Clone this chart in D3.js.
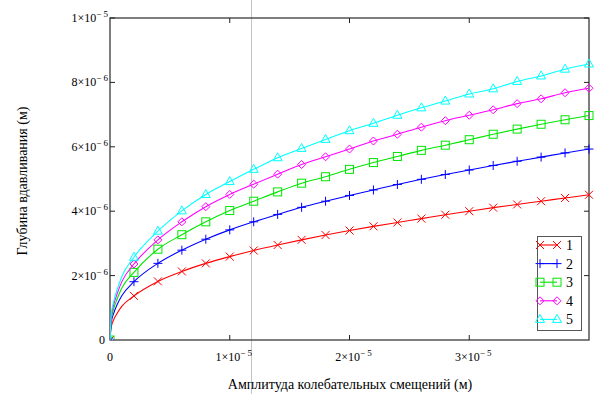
<!DOCTYPE html>
<html>
    <head>
        <meta charset="utf-8">
        <title>Глубина вдавливания</title>
        <style>
            body { margin: 0; background: #fff; }
            text { font-family: "Liberation Serif", "Times New Roman", serif; fill: #000; }
        </style>
    </head>
    <body>
        <svg></svg>
        <script src="https://d3js.org/d3.v7.min.js"></script>
        <script>
            // all values in units of 1e-6 m
            var xMarks = [0, 2, 4, 6, 8, 10, 12, 14, 16, 18, 20, 22, 24, 26, 28, 30, 32, 34, 36, 38, 40];
            var series1 = [0, 1.37, 1.82, 2.13, 2.38, 2.59, 2.78, 2.95, 3.11, 3.26, 3.40, 3.53, 3.65, 3.77, 3.89, 4.00, 4.11, 4.21, 4.31, 4.41, 4.51];
            var series2 = [0, 1.81, 2.38, 2.79, 3.13, 3.42, 3.67, 3.90, 4.12, 4.31, 4.49, 4.66, 4.83, 4.99, 5.14, 5.28, 5.42, 5.55, 5.68, 5.81, 5.93];
            var series3 = [0, 2.10, 2.82, 3.27, 3.67, 4.02, 4.31, 4.60, 4.87, 5.07, 5.30, 5.51, 5.70, 5.89, 6.05, 6.22, 6.39, 6.55, 6.70, 6.84, 6.97];
            var series4 = [0, 2.36, 3.11, 3.67, 4.14, 4.52, 4.84, 5.15, 5.45, 5.69, 5.93, 6.18, 6.39, 6.61, 6.81, 6.98, 7.15, 7.34, 7.49, 7.68, 7.82];
            var series5 = [0, 2.57, 3.38, 4.01, 4.52, 4.92, 5.30, 5.66, 5.95, 6.23, 6.50, 6.73, 6.98, 7.21, 7.42, 7.64, 7.80, 8.03, 8.20, 8.41, 8.57];

            // extra points read near the origin, where the curves rise steeply
            var xNear = [0.1, 0.3, 0.6, 1.0];
            var near1 = [0.40, 0.62, 0.83, 1.05];
            var near2 = [0.53, 0.82, 1.10, 1.38];
            var near3 = [0.62, 0.96, 1.28, 1.62];
            var near4 = [0.70, 1.08, 1.44, 1.82];
            var near5 = [0.76, 1.18, 1.57, 1.98];

            var seriesNames = ["1", "2", "3", "4", "5"];
            var seriesColors = ["#ff0000", "#0000ff", "#00e600", "#ff00ff", "#00ffff"];
            var seriesMarkers = ["x", "plus", "square", "diamond", "triangle"];

            var xTicks = [0, 10, 20, 30];
            var xTickLabels = [["0", ""], ["1×10", "− 5"], ["2×10", "− 5"], ["3×10", "− 5"]];
            var yTicks = [0, 2, 4, 6, 8, 10];
            var yTickLabels = [["0", ""], ["2×10", "− 6"], ["4×10", "− 6"], ["6×10", "− 6"], ["8×10", "− 6"], ["1×10", "− 5"]];

            var xTitle = "Амплитуда колебательных смещений (м)";
            var yTitle = "Глубина вдавливания (м)";

            var width = 595, height = 394;
            var svg = d3.select("svg").attr("width", width).attr("height", height);

            var x = d3.scaleLinear().domain([0, 40]).range([110, 589]);
            var y = d3.scaleLinear().domain([0, 10]).range([340, 18]);

            // clip curves and markers to the plot area
            svg.append("defs").append("clipPath").attr("id", "plotclip")
                .append("rect")
                .attr("x", x(0)).attr("y", y(10) - 6)
                .attr("width", x(40) - x(0) + 6).attr("height", y(0) - y(10) + 6);

            // stray cursor line from the original
            svg.append("line")
                .attr("x1", 251.5).attr("x2", 251.5)
                .attr("y1", 0).attr("y2", height)
                .attr("stroke", "#c4c4c4").attr("stroke-width", 1);

            // frame
            svg.append("rect")
                .attr("x", x(0)).attr("y", y(10))
                .attr("width", x(40) - x(0)).attr("height", y(0) - y(10))
                .attr("fill", "none").attr("stroke", "#3a3a3a").attr("stroke-width", 1.3);

            // ticks on all four sides, pointing inward
            var tickLen = 5;
            xTicks.forEach(function (t) {
                if (t === 0) return;
                svg.append("line").attr("x1", x(t)).attr("x2", x(t)).attr("y1", y(0)).attr("y2", y(0) - tickLen).attr("stroke", "#222");
                svg.append("line").attr("x1", x(t)).attr("x2", x(t)).attr("y1", y(10)).attr("y2", y(10) + tickLen).attr("stroke", "#222");
            });
            yTicks.forEach(function (t) {
                if (t === 0) return;
                svg.append("line").attr("x1", x(0)).attr("x2", x(0) + tickLen).attr("y1", y(t)).attr("y2", y(t)).attr("stroke", "#222");
                svg.append("line").attr("x1", x(40)).attr("x2", x(40) - tickLen).attr("y1", y(t)).attr("y2", y(t)).attr("stroke", "#222");
            });

            // tick labels
            xTicks.forEach(function (t, i) {
                var lab = xTickLabels[i];
                var txt = svg.append("text")
                    .attr("x", x(t) + (lab[1] ? 4 : 0)).attr("y", 361)
                    .attr("text-anchor", "middle").style("font-size", "12px");
                txt.append("tspan").text(lab[0]);
                if (lab[1]) txt.append("tspan").attr("dy", -5).style("font-size", "9px").text(lab[1]);
            });
            yTicks.forEach(function (t, i) {
                var lab = yTickLabels[i];
                var txt = svg.append("text")
                    .attr("x", lab[1] ? 108 : 105).attr("y", y(t) + 4)
                    .attr("text-anchor", "end").style("font-size", "12px");
                txt.append("tspan").text(lab[0]);
                if (lab[1]) txt.append("tspan").attr("dy", -5).style("font-size", "9px").text(lab[1]);
            });

            // axis titles
            svg.append("text")
                .attr("x", 350).attr("y", 389)
                .attr("text-anchor", "middle").style("font-size", "14px")
                .text(xTitle);
            svg.append("text")
                .attr("transform", "translate(27,181) rotate(-90)")
                .attr("text-anchor", "middle").style("font-size", "14px")
                .text(yTitle);

            // marker drawing
            function drawMarker(g, type, cx, cy, color) {
                var s = 4;
                if (type === "x") {
                    g.append("path").attr("d", "M" + (cx - s) + "," + (cy - s) + "L" + (cx + s) + "," + (cy + s) + "M" + (cx - s) + "," + (cy + s) + "L" + (cx + s) + "," + (cy - s))
                        .attr("stroke", color).attr("fill", "none");
                } else if (type === "plus") {
                    g.append("path").attr("d", "M" + (cx - s - 0.5) + "," + cy + "L" + (cx + s + 0.5) + "," + cy + "M" + cx + "," + (cy - s - 0.5) + "L" + cx + "," + (cy + s + 0.5))
                        .attr("stroke", color).attr("fill", "none");
                } else if (type === "square") {
                    g.append("rect").attr("x", cx - s).attr("y", cy - s).attr("width", 2 * s).attr("height", 2 * s)
                        .attr("stroke", color).attr("fill", "none");
                } else if (type === "diamond") {
                    g.append("path").attr("d", "M" + cx + "," + (cy - s) + "L" + (cx + s) + "," + cy + "L" + cx + "," + (cy + s) + "L" + (cx - s) + "," + cy + "Z")
                        .attr("stroke", color).attr("fill", "none");
                } else if (type === "triangle") {
                    g.append("path").attr("d", "M" + cx + "," + (cy - s - 1) + "L" + (cx + s + 0.5) + "," + (cy + s - 1) + "L" + (cx - s - 0.5) + "," + (cy + s - 1) + "Z")
                        .attr("stroke", color).attr("fill", "none");
                }
            }

            var allSeries = [series1, series2, series3, series4, series5];
            var allNear = [near1, near2, near3, near4, near5];

            var line = d3.line()
                .x(function (d) { return x(d[0]); })
                .y(function (d) { return y(d[1]); })
                .curve(d3.curveMonotoneX);

            var plot = svg.append("g").attr("clip-path", "url(#plotclip)");

            allSeries.forEach(function (vals, k) {
                var pts = [[xMarks[0], vals[0]]];
                xNear.forEach(function (xv, j) { pts.push([xv, allNear[k][j]]); });
                for (var i = 1; i < xMarks.length; i++) pts.push([xMarks[i], vals[i]]);

                plot.append("path")
                    .attr("d", line(pts))
                    .attr("fill", "none")
                    .attr("stroke", seriesColors[k])
                    .attr("stroke-width", 1.1);

                var g = plot.append("g");
                xMarks.forEach(function (xv, i) {
                    drawMarker(g, seriesMarkers[k], x(xv), y(vals[i]), seriesColors[k]);
                });
            });

            // legend
            var lg = svg.append("g");
            lg.append("rect")
                .attr("x", 537.5).attr("y", 236.5).attr("width", 44).attr("height", 94)
                .attr("fill", "#fff").attr("stroke", "#555").attr("stroke-width", 1);
            seriesNames.forEach(function (name, k) {
                var ly = 245 + k * 18.6;
                lg.append("line").attr("x1", 540).attr("x2", 557).attr("y1", ly).attr("y2", ly)
                    .attr("stroke", seriesColors[k]).attr("stroke-width", 1.1);
                drawMarker(lg, seriesMarkers[k], 540, ly, seriesColors[k]);
                drawMarker(lg, seriesMarkers[k], 557, ly, seriesColors[k]);
                lg.append("text").attr("x", 566).attr("y", ly + 5)
                    .style("font-size", "14px").text(name);
            });
        </script>
    </body>
</html>
